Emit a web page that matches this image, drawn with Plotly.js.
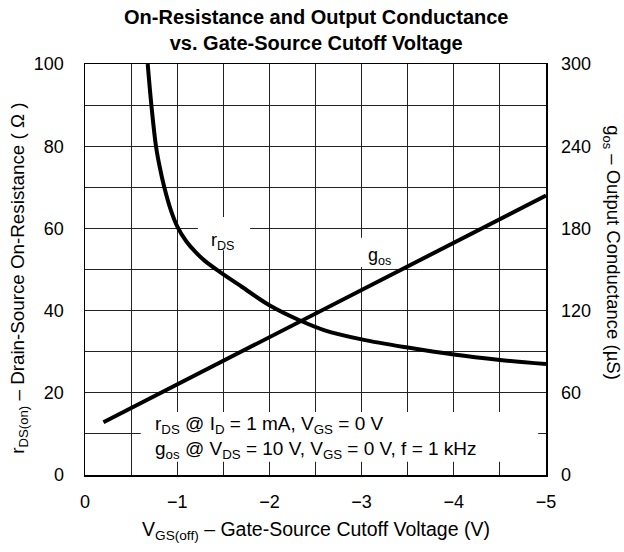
<!DOCTYPE html>
<html>
<head>
<meta charset="utf-8">
<script src="https://cdn.plot.ly/plotly-3.0.1.min.js"></script>
<style>html,body{margin:0;padding:0;background:#fff;}#chart{width:624px;height:552px;}</style>
</head>
<body>
<div id="chart"></div>
<script>
// rDS(on) vs VGS(off)
var rdsV = [-0.68, -0.72, -0.77, -0.81, -0.86, -0.93, -1.0, -1.1, -1.2, -1.3, -1.45, -1.7, -2.0, -2.32, -2.6, -3.0, -3.5, -4.0, -4.5, -5.0];
var rdsOhm = [100, 90, 80, 75, 70, 64.5, 60.5, 56.8, 54.2, 52.1, 49.6, 45.8, 41.3, 37.7, 35.2, 33.0, 31.0, 29.3, 28.0, 27.0];
// gos vs VGS(off)
var gosV = [-0.2, -5.0];
var gosUS = [38.5, 204];
// tick labels
var xTickVals = [0, -1, -2, -3, -4, -5];
var xTickText = ['0', '\u22121', '\u22122', '\u22123', '\u22124', '\u22125'];
var yLeftTicks = [0, 20, 40, 60, 80, 100];
var yRightTicks = [0, 60, 120, 180, 240, 300];

var FONT = 'Arial, "Liberation Sans", Helvetica, sans-serif';
var FS = 18;

var traces = [
  {x: rdsV, y: rdsOhm, type: 'scatter', mode: 'lines', line: {color: '#000', width: 4, shape: 'spline', smoothing: 1}, yaxis: 'y', hoverinfo: 'skip'},
  {x: gosV, y: gosUS, type: 'scatter', mode: 'lines', line: {color: '#000', width: 4}, yaxis: 'y2', hoverinfo: 'skip'}
];

function whiteBox(x0, x1, y0, y1) {
  return {type: 'rect', xref: 'x', yref: 'y', x0: x0, x1: x1, y0: y0, y1: y1,
          fillcolor: '#fff', line: {width: 0}, layer: 'between'};
}

var layout = {
  width: 624, height: 552,
  margin: {l: 85, r: 78, t: 64, b: 77},
  paper_bgcolor: '#fff', plot_bgcolor: '#fff',
  showlegend: false,
  font: {family: FONT, size: FS, color: '#000'},
  xaxis: {
    range: [0, -5], tickvals: xTickVals, ticktext: xTickText,
    showgrid: true, gridcolor: '#222', gridwidth: 1,
    minor: {dtick: 0.5, showgrid: true, gridcolor: '#222', gridwidth: 1, ticks: ''},
    showline: true, linecolor: '#000', linewidth: 1.5, mirror: true,
    ticks: '', zeroline: false, ticklabelstandoff: 10,
    tickfont: {family: FONT, size: FS}
  },
  yaxis: {
    range: [0, 100], tickvals: yLeftTicks,
    showgrid: true, gridcolor: '#222', gridwidth: 1,
    minor: {dtick: 10, showgrid: true, gridcolor: '#222', gridwidth: 1, ticks: ''},
    showline: true, linecolor: '#000', linewidth: 1.5, mirror: true,
    ticks: '', zeroline: false, ticklabelstandoff: 16,
    tickfont: {family: FONT, size: FS}
  },
  yaxis2: {
    range: [0, 300], tickvals: yRightTicks, overlaying: 'y', side: 'right',
    showgrid: false, zeroline: false, ticks: '', showline: false, ticklabelstandoff: 14,
    tickfont: {family: FONT, size: FS}
  },
  shapes: [
    whiteBox(-1.225, -1.79, 54.7, 62.8),
    whiteBox(-2.93, -3.47, 50.6, 57.7),
    whiteBox(-0.605, -4.915, 3.2, 15.3)
  ],
  annotations: [
    {text: '<b>On-Resistance and Output Conductance<br>vs. Gate-Source Cutoff Voltage</b>', xref: 'paper', yref: 'paper', x: 0.5, y: 1.083, xanchor: 'center', yanchor: 'middle', showarrow: false, font: {size: 20}},
    {text: 'r<sub>DS</sub>', xref: 'paper', yref: 'paper', x: 0.299, y: 0.567, xanchor: 'center', yanchor: 'middle', showarrow: false, font: {size: 18}},
    {text: 'g<sub>os</sub>', xref: 'paper', yref: 'paper', x: 0.638, y: 0.532, xanchor: 'center', yanchor: 'middle', showarrow: false, font: {size: 18}},
    {text: 'r<sub>DS</sub> @ I<sub>D</sub> = 1 mA, V<sub>GS</sub> = 0 V<br>g<sub>os</sub> @ V<sub>DS</sub> = 10 V, V<sub>GS</sub> = 0 V, f = 1 kHz', xref: 'paper', yref: 'paper', x: 0.148, xanchor: 'left', y: 0.092, yanchor: 'middle', align: 'left', showarrow: false, font: {size: 19}},
    {text: 'V<sub>GS(off)</sub> \u2013 Gate-Source Cutoff Voltage (V)', xref: 'paper', yref: 'paper', x: 0.5, y: -0.135, xanchor: 'center', yanchor: 'middle', showarrow: false, font: {size: 19.5}},
    {text: 'r<sub>DS(on)</sub> \u2013 Drain-Source On-Resistance ( \u03a9 )', xref: 'paper', yref: 'paper', x: -0.145, y: 0.478, xanchor: 'center', yanchor: 'middle', showarrow: false, textangle: -90, font: {size: 18.8}},
    {text: 'g<sub>os</sub> \u2013 Output Conductance (\u00b5S)', xref: 'paper', yref: 'paper', x: 1.143, y: 0.54, xanchor: 'center', yanchor: 'middle', showarrow: false, textangle: 90, font: {size: 18.5}}
  ]
};

Plotly.newPlot('chart', traces, layout, {staticPlot: true, displayModeBar: false});
</script>
</body>
</html>
